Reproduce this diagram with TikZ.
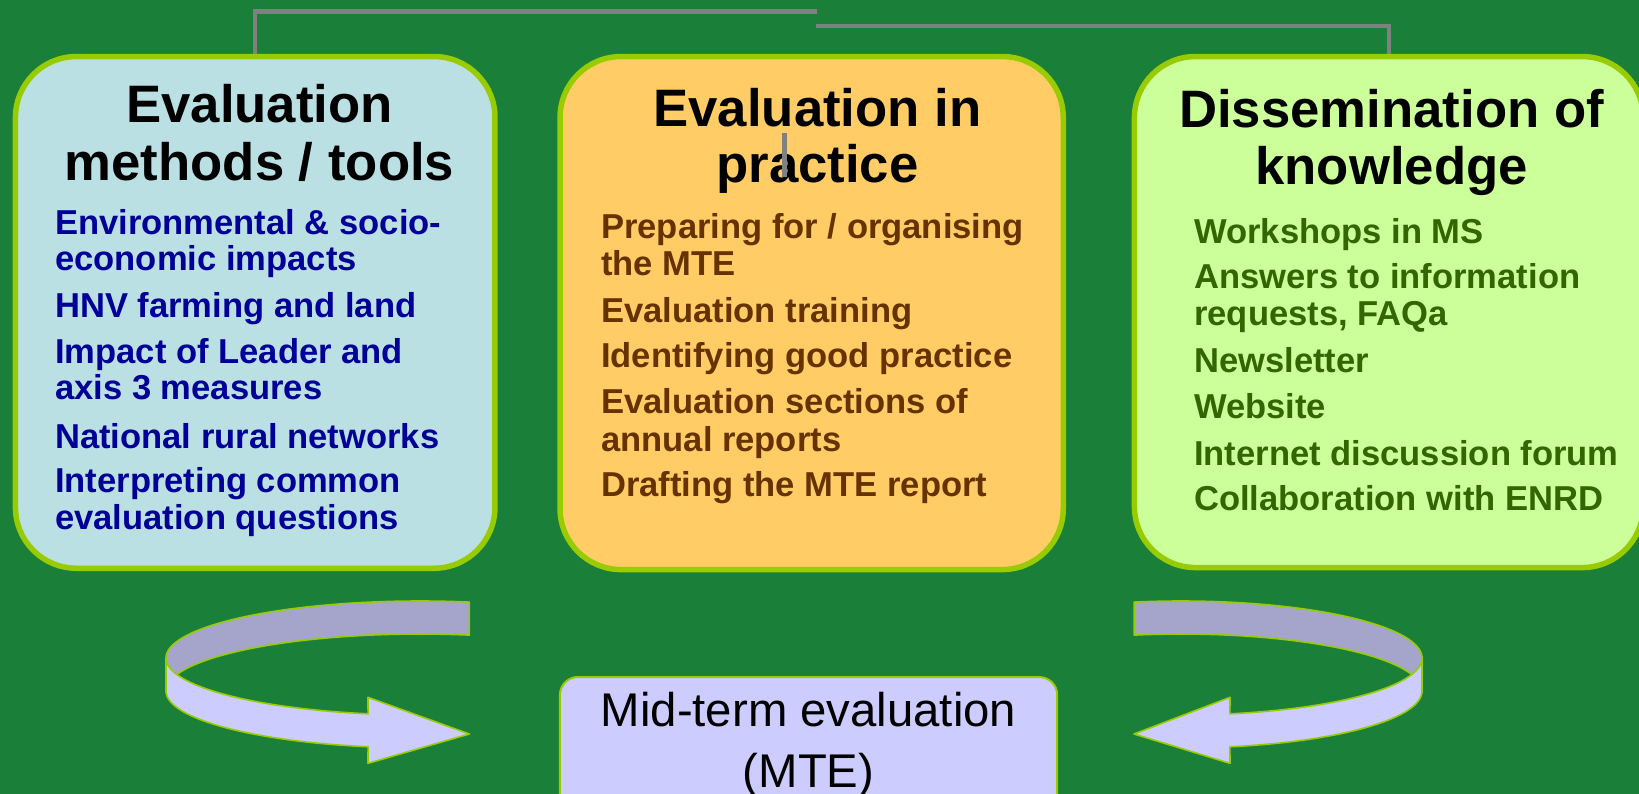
\documentclass[tikz,border=0pt]{standalone}
\usepackage{fontspec}
\setmainfont{Liberation Sans}
\pgfdeclarelayer{bglayer}
\pgfdeclarelayer{linelayer}
\pgfsetlayers{bglayer,linelayer,main}
\definecolor{bggreen}{HTML}{1A8039}
\definecolor{bordergreen}{HTML}{99CC00}
\definecolor{lfill}{HTML}{BBE0E3}
\definecolor{mfill}{HTML}{FFCC66}
\definecolor{rfill}{HTML}{CCFF99}
\definecolor{ltext}{HTML}{000099}
\definecolor{mtext}{HTML}{663300}
\definecolor{rtext}{HTML}{336600}
\definecolor{connGray}{HTML}{808080}
\definecolor{arrBack}{HTML}{A5A5CC}
\definecolor{arrFront}{HTML}{CCCCFF}
\newcommand\ttlfont{\bfseries\fontsize{52.9}{56}\selectfont}
\newcommand\itmfont{\bfseries\fontsize{34.7}{36}\selectfont}
\newcommand\mtefont{\fontsize{47.5}{60}\selectfont}
\begin{document}
\begin{tikzpicture}[x=1bp,y=-1bp,
  bigbox/.style={draw=bordergreen, line width=5.5bp, rounded corners=61bp, outer sep=0pt, inner sep=0pt},
  ttl/.style={anchor=base, inner sep=0pt, font=\ttlfont, text=black},
  itm/.style={anchor=base west, inner sep=0pt, font=\itmfont},
  conn/.style={draw=connGray, line width=4.5bp},
  ribbon/.style={draw=bordergreen, line width=1.6bp, line join=round},
  mtebox/.style={draw=bordergreen, line width=2bp, fill=arrFront, rounded corners=18bp, outer sep=0pt, inner sep=0pt},
  mtetxt/.style={anchor=base, inner sep=0pt, font=\mtefont, text=black}]
\useasboundingbox (0,0) rectangle (1639,794);
\begin{pgfonlayer}{bglayer}
  \fill[bggreen] (0,0) rectangle (1639,794);
\end{pgfonlayer}
\begin{scope}
\clip (0,0) rectangle (1639,794);
% boxes
\node[bigbox, fill=lfill, minimum width=479.5bp, minimum height=511.7bp] (L) at (255.2,312.4) {};
\node[bigbox, fill=mfill, minimum width=503.2bp, minimum height=513bp] (M) at (811.65,313.05) {};
\node[bigbox, fill=rfill, minimum width=508.8bp, minimum height=511bp] (R) at (1388.85,312.05) {};
% connectors behind boxes
\coordinate (c1) at (816.7,11.5);
\coordinate (c2) at (815.6,26);
\begin{pgfonlayer}{linelayer}
  \draw[conn] (L.north) |- (c1);
  \draw[conn] (c2) -| (R.north);
\end{pgfonlayer}
% left box text
\node[ttl] (lt1) at (259.5,122.6) {Evaluation};
\node[ttl] (lt2) at (259.5,180.5) {methods / tools};
\begin{scope}[every node/.append style={itm, text=ltext}]
\node (l1) at (55,234.6) {Environmental \& socio-};
\node (l2) at (55,270.7) {economic impacts};
\node (l3) at (55,317.2) {HNV farming and land};
\node (l4) at (55,363.7) {Impact of Leader and};
\node (l5) at (55,399.8) {axis 3 measures};
\node (l6) at (55,448) {National rural networks};
\node (l7) at (55,492.8) {Interpreting common};
\node (l8) at (55,529) {evaluation questions};
\end{scope}
% middle box text
\node[ttl] (mt1) at (817.5,126) {Evaluation in};
\node[ttl] (mt2) at (817.5,182.9) {practice};
\begin{scope}[every node/.append style={itm, text=mtext}]
\node (p1) at (601,238) {Preparing for / organising};
\node (p2) at (601,275.9) {the MTE};
\node (p3) at (601,322.4) {Evaluation training};
\node (p4) at (601,367.1) {Identifying good practice};
\node (p5) at (601,413.6) {Evaluation sections of};
\node (p6) at (601,451.5) {annual reports};
\node (p7) at (601,496.3) {Drafting the MTE report};
\end{scope}
\coordinate (s1) at (784.7,132.7);
\coordinate (s2) at (784.7,176.7);
\draw[conn] (s1) -- (s2);
% right box text
\node[ttl] (rt1) at (1391.5,127.8) {Dissemination of};
\node[ttl] (rt2) at (1391.5,184.6) {knowledge};
\begin{scope}[every node/.append style={itm, text=rtext}]
\node (r1) at (1194,243.2) {Workshops in MS};
\node (r2) at (1194,288) {Answers to information};
\node (r3) at (1194,325.8) {requests, FAQa};
\node (r4) at (1194,372.3) {Newsletter};
\node (r5) at (1194,418.8) {Website};
\node (r6) at (1194,465.3) {Internet discussion forum};
\node (r7) at (1194,510) {Collaboration with ENRD};
\end{scope}
% left ribbon arrow
\filldraw[ribbon, fill=arrBack]
  plot[domain=-78.8:-180,samples=90] ({420+254*cos(\x)},{658+57*sin(\x)})
  -- plot[domain=-180:-78.8,samples=90] ({420+254*cos(\x)},{691+57*sin(\x)}) -- cycle;
\filldraw[ribbon, fill=arrFront]
  plot[domain=180:101.8,samples=90] ({420+254*cos(\x)},{658+57*sin(\x)})
  -- (368,697.3) -- (469.3,734) -- (368,763.3)
  -- plot[domain=101.8:180,samples=90] ({420+254*cos(\x)},{691+57*sin(\x)}) -- cycle;
% right ribbon arrow
\filldraw[ribbon, fill=arrBack]
  plot[domain=-101.2:0,samples=90] ({1181+241*cos(\x)},{658+57*sin(\x)})
  -- plot[domain=0:-101.2,samples=90] ({1181+241*cos(\x)},{691+57*sin(\x)}) -- cycle;
\filldraw[ribbon, fill=arrFront]
  plot[domain=0:78.3,samples=90] ({1181+241*cos(\x)},{658+57*sin(\x)})
  -- (1230,697.3) -- (1134,734) -- (1230,763.3)
  -- plot[domain=78.3:0,samples=90] ({1181+241*cos(\x)},{691+57*sin(\x)}) -- cycle;
% MTE box
\node[mtebox, minimum width=497.3bp, minimum height=153bp] (MTE) at (808.55,753.5) {};
\node[mtetxt] (m1) at (808.6,726.7) {Mid-term evaluation};
\node[mtetxt] (m2) at (808.6,787) {(MTE)};
\end{scope}
\end{tikzpicture}
\end{document}
